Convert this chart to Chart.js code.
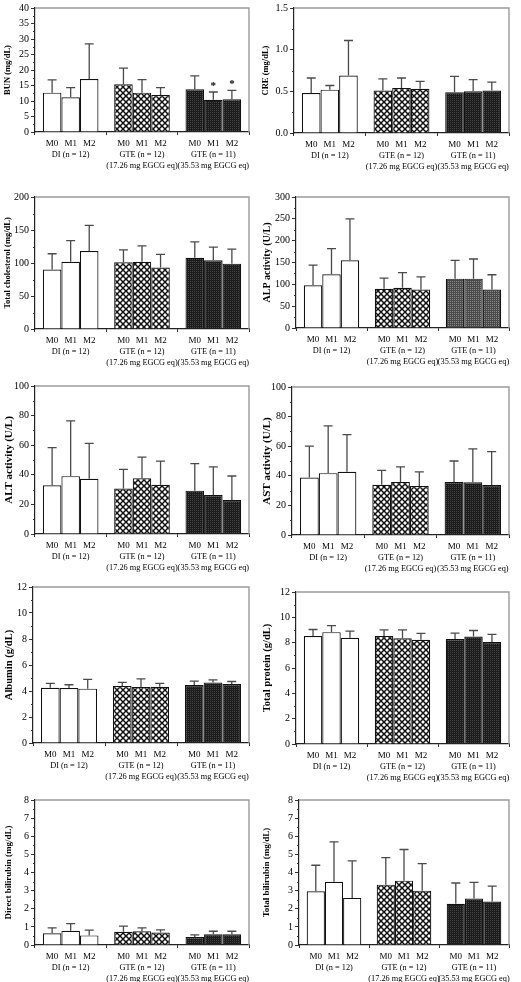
<!DOCTYPE html>
<html>
<head>
<meta charset="utf-8">
<script src="https://cdn.jsdelivr.net/npm/chart.js@4.4.1/dist/chart.umd.min.js"></script>
<style>
  body { margin: 0; background: #fff; width: 521px; height: 982px; overflow: hidden; position: relative; }
  .panel { position: absolute; }
</style>
</head>
<body>
<script>
const groupLabels = [["DI (n = 12)"], ["GTE (n = 12)", "(17.26 mg EGCG eq)"], ["GTE (n = 11)", "(35.53 mg EGCG eq)"]];
const timeLabels = ["M0", "M1", "M2"];

// order: DI M0, M1, M2 | GTE low M0, M1, M2 | GTE high M0, M1, M2
const bunMean = [12.7, 11.2, 17.1, 15.4, 12.7, 11.9, 13.8, 10.4, 10.6];
const bunSd = [4.1, 3.1, 11.3, 5.2, 4.2, 2.4, 4.3, 2.5, 2.8];
const bunStar = [0, 0, 0, 0, 0, 0, 0, 1, 1];
const creMean = [0.48, 0.52, 0.69, 0.51, 0.54, 0.53, 0.49, 0.50, 0.51];
const creSd = [0.18, 0.05, 0.42, 0.14, 0.12, 0.09, 0.19, 0.14, 0.10];
const cholMean = [90, 102, 118, 101, 102, 93, 108, 104, 99];
const cholSd = [24, 32, 39, 19, 24, 20, 24, 20, 22];
const alpMean = [98, 123, 155, 90, 92, 88, 113, 113, 88];
const alpSd = [46, 59, 95, 24, 35, 29, 42, 45, 34];
const altMean = [32.9, 39.1, 37.3, 30.7, 37.6, 33.3, 29.3, 26.4, 22.9];
const altSd = [25.5, 37.3, 24.0, 12.9, 14.4, 16.0, 18.2, 18.9, 16.3];
const astMean = [38.9, 41.8, 42.7, 34.0, 35.8, 33.1, 35.8, 35.6, 33.8];
const astSd = [21.1, 32.0, 25.1, 9.6, 10.2, 9.6, 14.2, 22.6, 22.6];
const albMean = [4.25, 4.23, 4.18, 4.38, 4.30, 4.33, 4.46, 4.66, 4.53];
const albSd = [0.33, 0.25, 0.71, 0.28, 0.64, 0.25, 0.30, 0.20, 0.20];
const tpMean = [8.52, 8.83, 8.39, 8.52, 8.34, 8.23, 8.29, 8.49, 8.05];
const tpSd = [0.52, 0.52, 0.52, 0.49, 0.67, 0.50, 0.46, 0.47, 0.60];
const dbMean = [0.65, 0.78, 0.53, 0.73, 0.76, 0.69, 0.44, 0.60, 0.60];
const dbSd = [0.30, 0.40, 0.29, 0.31, 0.19, 0.15, 0.12, 0.16, 0.16];
const tbMean = [2.96, 3.49, 2.60, 3.33, 3.55, 3.00, 2.27, 2.57, 2.40];
const tbSd = [1.44, 2.20, 2.04, 1.49, 1.72, 1.49, 1.15, 0.88, 0.85];

const FONT = "'Liberation Serif', 'Times New Roman', serif";

function crossPattern() {
  const c = document.createElement('canvas');
  c.width = 6; c.height = 6;
  const g = c.getContext('2d');
  g.fillStyle = '#fff';
  g.fillRect(0, 0, 6, 6);
  g.strokeStyle = '#111';
  g.lineWidth = 1.5;
  g.beginPath();
  g.moveTo(-1, -1); g.lineTo(7, 7);
  g.moveTo(7, -1); g.lineTo(-1, 7);
  g.stroke();
  return g.createPattern(c, 'repeat');
}

function darkPattern(base, dot) {
  const c = document.createElement('canvas');
  c.width = 2; c.height = 2;
  const g = c.getContext('2d');
  g.fillStyle = base;
  g.fillRect(0, 0, 2, 2);
  g.fillStyle = dot;
  g.fillRect(0, 0, 1, 1);
  return g.createPattern(c, 'repeat');
}

const extras = {
  id: 'extras',
  afterDraw(chart) {
    const { ctx, chartArea: a, scales: { y } } = chart;
    ctx.save();
    // gray frame on top and right
    ctx.strokeStyle = '#9a9a9a';
    ctx.lineWidth = 1.4;
    ctx.beginPath();
    ctx.moveTo(a.left, a.top);
    ctx.lineTo(a.right, a.top);
    ctx.lineTo(a.right, a.bottom);
    ctx.stroke();
    // minor ticks
    ctx.strokeStyle = '#333';
    ctx.lineWidth = 1;
    const ticks = y.ticks;
    for (let k = 0; k < ticks.length - 1; k++) {
      const py = Math.round(y.getPixelForValue((ticks[k].value + ticks[k + 1].value) / 2)) + 0.5;
      ctx.beginPath();
      ctx.moveTo(a.left - 2, py);
      ctx.lineTo(a.left, py);
      ctx.stroke();
    }
    // error bars, stars, time labels
    chart.data.datasets.forEach((ds, i) => {
      chart.getDatasetMeta(i).data.forEach((bar, j) => {
        const top = y.getPixelForValue(ds.data[j] + ds.sd[j]);
        ctx.strokeStyle = '#4a4a4a';
        ctx.lineWidth = 1.3;
        ctx.beginPath();
        ctx.moveTo(bar.x, bar.y);
        ctx.lineTo(bar.x, top);
        ctx.moveTo(bar.x - 4.5, top);
        ctx.lineTo(bar.x + 4.5, top);
        ctx.stroke();
        ctx.fillStyle = '#000';
        ctx.textAlign = 'center';
        ctx.textBaseline = 'middle';
        if (ds.star && ds.star[j]) {
          ctx.font = 'bold 11px ' + FONT;
          ctx.fillText('*', bar.x, top - 6);
        }
        ctx.font = '9px ' + FONT;
        ctx.fillText(timeLabels[i], bar.x, a.bottom + 12);
      });
    });
    ctx.restore();
  }
};

function makePanel(p) {
  const div = document.createElement('div');
  div.className = 'panel';
  div.style.left = p.left + 'px';
  div.style.top = p.top + 'px';
  div.style.width = p.width + 'px';
  div.style.height = p.height + 'px';
  const canvas = document.createElement('canvas');
  div.appendChild(canvas);
  document.body.appendChild(div);

  const fills = ['#fff', crossPattern(), darkPattern(p.dark || '#1c1c1c', p.dot || '#444')];
  const datasets = timeLabels.map((t, i) => ({
    label: t,
    data: [p.mean[i], p.mean[3 + i], p.mean[6 + i]],
    sd: [p.sd[i], p.sd[3 + i], p.sd[6 + i]],
    star: p.star ? [p.star[i], p.star[3 + i], p.star[6 + i]] : null,
    backgroundColor: fills,
    borderColor: '#111',
    borderWidth: 1.2,
    barPercentage: 1,
    categoryPercentage: 0.78
  }));

  new Chart(canvas, {
    type: 'bar',
    data: { labels: groupLabels, datasets },
    options: {
      responsive: true,
      maintainAspectRatio: false,
      animation: false,
      layout: { padding: { top: p.padTop, right: 3, left: 0, bottom: 0 } },
      plugins: { legend: { display: false }, tooltip: { enabled: false } },
      scales: {
        x: {
          grid: { drawOnChartArea: false, tickLength: 3, color: '#333', offset: true },
          border: { color: '#222', width: 1.2 },
          ticks: { font: { family: FONT, size: 8.3, lineHeight: 1.25 }, color: '#000', padding: 15, maxRotation: 0, autoSkip: false },
          afterFit: s => { s.height = 42; s.paddingLeft = 0; s.paddingRight = 0; }
        },
        y: {
          min: 0,
          max: p.max,
          ticks: {
            stepSize: p.step,
            font: { family: FONT, size: 10 },
            color: '#000',
            padding: 2,
            callback: v => p.digits ? v.toFixed(p.digits) : v
          },
          grid: { drawOnChartArea: false, tickLength: 4, color: '#333' },
          border: { color: '#222', width: 1.2 },
          title: {
            display: true,
            text: p.title,
            color: '#000',
            font: { family: FONT, size: p.titleSize, weight: 'bold' },
            padding: { top: 3, bottom: 1 }
          },
          afterFit: s => { s.width = p.yWidth; }
        }
      }
    },
    plugins: [extras]
  });
}

makePanel({ left: 0, top: 0, width: 252, height: 174, padTop: 5, yWidth: 35, title: 'BUN (mg/dL)', titleSize: 8.5, max: 40, step: 5, mean: bunMean, sd: bunSd, star: bunStar });
makePanel({ left: 258, top: 0, width: 254, height: 175, padTop: 5, yWidth: 36, title: 'CRE (mg/dL)', titleSize: 8.5, max: 1.5, step: 0.5, digits: 1, mean: creMean, sd: creSd });
makePanel({ left: 0, top: 189, width: 252, height: 182, padTop: 6, yWidth: 35, title: 'Total cholesterol (mg/dL)', titleSize: 8.5, max: 200, step: 50, mean: cholMean, sd: cholSd });
makePanel({ left: 258, top: 189, width: 254, height: 181, padTop: 6, yWidth: 38, title: 'ALP activity (U/L)', titleSize: 10, max: 300, step: 50, mean: alpMean, sd: alpSd, dark: '#4a4a4a', dot: '#8a8a8a' });
makePanel({ left: 0, top: 378, width: 252, height: 198, padTop: 6, yWidth: 35, title: 'ALT activity (U/L)', titleSize: 11, max: 100, step: 20, mean: altMean, sd: altSd });
makePanel({ left: 258, top: 379, width: 254, height: 198, padTop: 6, yWidth: 34, title: 'AST activity (U/L)', titleSize: 11, max: 100, step: 20, mean: astMean, sd: astSd });
makePanel({ left: 0, top: 579, width: 252, height: 206, padTop: 6, yWidth: 33, title: 'Albumin (g/dL)', titleSize: 10.5, max: 12, step: 2, mean: albMean, sd: albSd });
makePanel({ left: 258, top: 584, width: 254, height: 202, padTop: 6, yWidth: 38, title: 'Total protein (g/dL)', titleSize: 10.5, max: 12, step: 2, mean: tpMean, sd: tpSd });
makePanel({ left: 0, top: 792, width: 252, height: 195, padTop: 6, yWidth: 35, title: 'Direct bilirubin (mg/dL)', titleSize: 9, max: 8, step: 1, mean: dbMean, sd: dbSd });
makePanel({ left: 258, top: 792, width: 254, height: 195, padTop: 6, yWidth: 41, title: 'Total bilirubin (mg/dL)', titleSize: 9, max: 8, step: 1, mean: tbMean, sd: tbSd });
</script>
</body>
</html>
